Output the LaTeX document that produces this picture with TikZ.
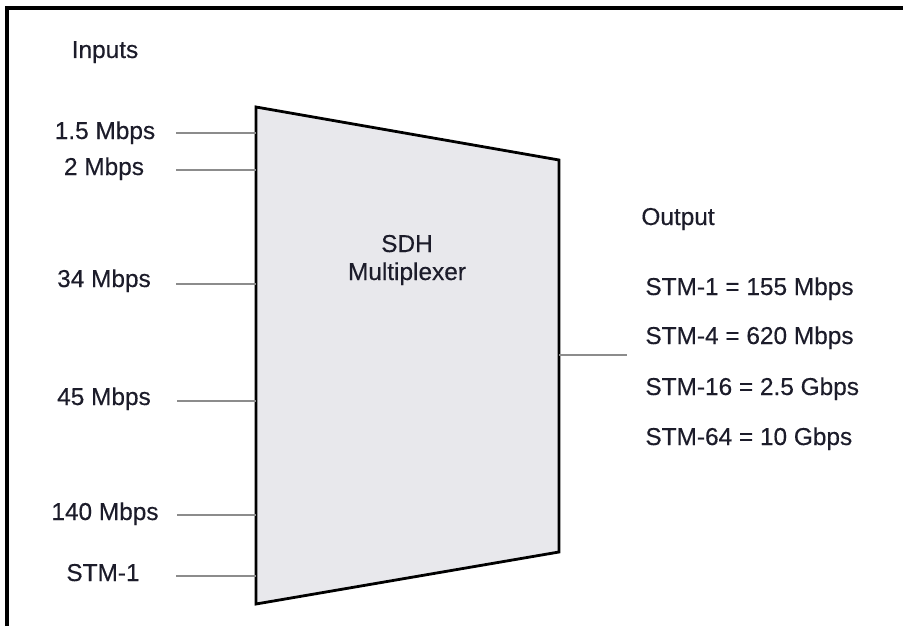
\documentclass[tikz,border=0pt]{standalone}
\usepackage{fontspec}
\setmainfont{Liberation Sans}[BoldFont={Liberation Sans}, BoldFeatures={FakeBold=0.35}]
\usepackage{tikz}
\usetikzlibrary{positioning}
\definecolor{inkcol}{HTML}{1C1C2A}
\definecolor{muxfill}{HTML}{E8E8EC}
\definecolor{feedcol}{HTML}{8C8C8C}

\begin{document}
\begin{tikzpicture}[
    x=0.5pt, y=-0.5pt,
    font=\fontsize{12.2}{14}\selectfont\bfseries,
    lbl/.style={text=inkcol, inner sep=0pt, anchor=base},
    rate/.style={text=inkcol, inner sep=0pt, anchor=base west},
    feed/.style={feedcol, line width=0.9pt},
    muxbody/.style={draw=black, fill=muxfill, line width=1.4pt, line join=miter},
    frameline/.style={black, line width=2.4pt},
  ]
  \useasboundingbox (0,0) rectangle (903,626);
  \draw[frameline] (7,626) -- (7,8) -- (903,8);

  % multiplexer body
  \coordinate (tl) at (256,107);
  \coordinate (tr) at (559,160);
  \coordinate (br) at (559,552);
  \coordinate (bl) at (256,604);
  \draw[muxbody] (tl) -- (tr) -- (br) -- (bl) -- cycle;
  \node[lbl] (sdh) at (407,252) {SDH};
  \node[lbl] (mplx) at (407,280) {Multiplexer};

  % inputs
  \node[lbl] (inputs) at (105,58) {Inputs};
  \node[lbl] (r1) at (105,139) {1.5 Mbps};
  \node[lbl] (r2) at (104,175) {2 Mbps};
  \node[lbl] (r34) at (104,287) {34 Mbps};
  \node[lbl] (r45) at (104,405) {45 Mbps};
  \node[lbl] (r140) at (105,520) {140 Mbps};
  \node[lbl] (rstm) at (103,581) {STM-1};

  \coordinate (f1) at (176,133);
  \coordinate (f2) at (176,170);
  \coordinate (f34) at (176,284);
  \coordinate (f45) at (177,401);
  \coordinate (f140) at (177,515);
  \coordinate (fstm) at (176,576);
  \draw[feed] (f1) -- (f1 -| tl);
  \draw[feed] (f2) -- (f2 -| tl);
  \draw[feed] (f34) -- (f34 -| tl);
  \draw[feed] (f45) -- (f45 -| tl);
  \draw[feed] (f140) -- (f140 -| tl);
  \draw[feed] (fstm) -- (fstm -| tl);

  % output
  \coordinate (oend) at (627,355);
  \draw[feed] (oend -| br) -- (oend);
  \node[rate] (output) at (641,225) {Output};
  \node[rate] (stm1) at (645,295) {STM-1 = 155 Mbps};
  \node[rate] (stm4) at (645,344) {STM-4 = 620 Mbps};
  \node[rate] (stm16) at (645,395) {STM-16 = 2.5 Gbps};
  \node[rate] (stm64) at (645,445) {STM-64 = 10 Gbps};
\end{tikzpicture}
\end{document}
